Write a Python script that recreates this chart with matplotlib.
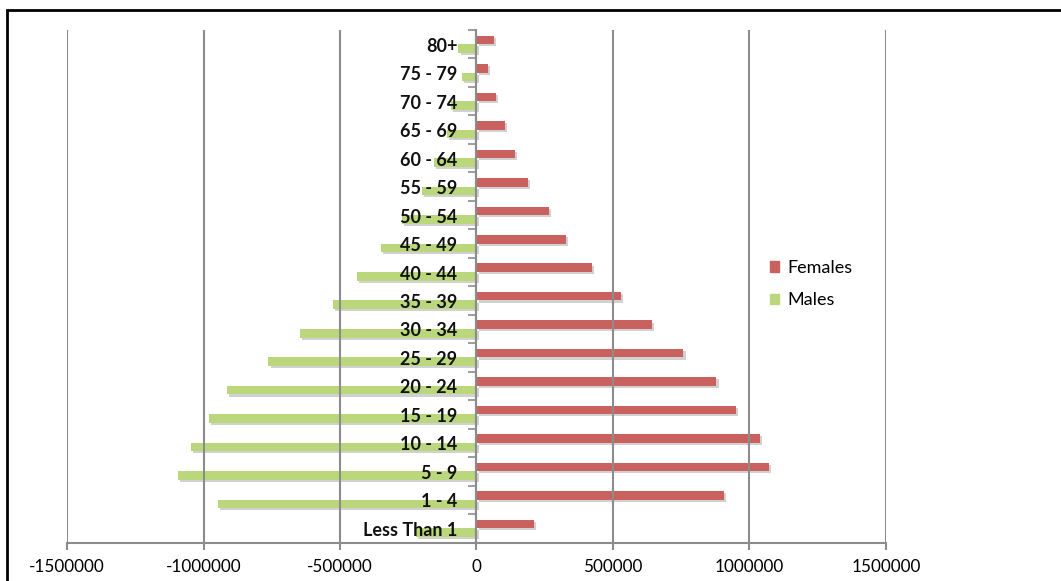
import numpy as np
import matplotlib.pyplot as plt
import matplotlib.patheffects as pe
from matplotlib.patches import Rectangle, Patch

# age groups, bottom to top
ages = ["Less Than 1", "1 - 4", "5 - 9", "10 - 14", "15 - 19", "20 - 24",
        "25 - 29", "30 - 34", "35 - 39", "40 - 44", "45 - 49", "50 - 54",
        "55 - 59", "60 - 64", "65 - 69", "70 - 74", "75 - 79", "80+"]

females = [211000, 908000, 1072000, 1037000, 950000, 879000,
           758000, 643000, 529000, 422000, 329000, 266000,
           187000, 142000, 105000, 70000, 42000, 64000]

males = [-221000, -947000, -1094000, -1046000, -980000, -914000,
         -762000, -646000, -527000, -438000, -350000, -274000,
         -201000, -156000, -108000, -94000, -53000, -66000]

xticks = [-1500000, -1000000, -500000, 0, 500000, 1000000, 1500000]

red = "#C9625F"
green = "#BAD77B"
grid_col = "#8C8C8C"

plt.rcParams['font.family'] = ['Lato', 'DejaVu Sans']

fig = plt.figure(figsize=(10.61, 5.81), dpi=100)
ax = fig.add_axes([67/1061, 38.5/581, 819/1061, 512.5/581])

y = np.arange(len(ages))
shadow = [pe.SimplePatchShadow(offset=(1.5, -1.5), shadow_rgbFace='#999999', alpha=0.45), pe.Normal()]
fb = ax.barh(y + 0.15, females, height=0.3, color=red, label="Females")
mb = ax.barh(y - 0.15, males, height=0.3, color=green, label="Males")
for b in list(fb) + list(mb):
    b.set_path_effects(shadow)

ax.set_xlim(-1500000, 1500000)
ax.set_ylim(-0.5, len(ages) - 0.5)
ax.set_xticks(xticks)
ax.set_xticklabels([str(t) for t in xticks], fontsize=12.3)
ax.grid(axis='x', color=grid_col, linewidth=1.5)
ax.set_axisbelow(False)

# boundary ticks on the centre axis, age labels drawn as text
ax.set_yticks(np.arange(len(ages) + 1) - 0.5)
ax.set_yticklabels([])
ax.tick_params(axis='y', which='major', length=6, color=grid_col, width=1.2)
ax.tick_params(axis='x', length=5, color=grid_col, width=1.5, pad=7)
for i, a in enumerate(ages):
    ax.annotate(a, (0, i), xytext=(-19, -2), textcoords='offset pixels',
                ha='right', va='center', fontsize=13, fontweight='bold',
                color='#111111', zorder=5)

for s in ['top', 'right']:
    ax.spines[s].set_visible(False)
ax.spines['left'].set_position(('data', 0))
ax.spines['left'].set_color(grid_col)
ax.spines['left'].set_linewidth(1.5)
ax.spines['bottom'].set_color(grid_col)
ax.spines['bottom'].set_linewidth(1.5)

handles = [Patch(color=red, label="Females"), Patch(color=green, label="Males")]
fig.legend(handles=handles, loc='center left', bbox_to_anchor=(754/1061, 1 - 284/581),
           frameon=False, fontsize=13, handlelength=0.5, handleheight=0.5,
           handletextpad=0.45, labelspacing=0.9)

fig.add_artist(Rectangle((7/1061, -0.1), 1.2, 1.1 - 10/581, transform=fig.transFigure,
                         fill=False, ec='black', lw=2))

fig.savefig("out.png", dpi=100)
